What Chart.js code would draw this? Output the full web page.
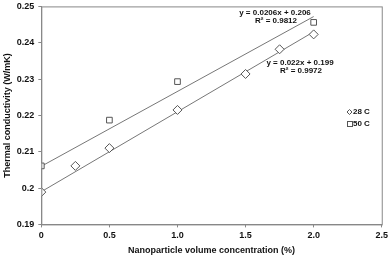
<!DOCTYPE html>
<html>
<head>
<meta charset="utf-8">
<script src="https://cdn.jsdelivr.net/npm/chart.js@4"></script>
<style>
  html, body { margin: 0; padding: 0; background: #fff; overflow: hidden; }
  #wrap { width: 391px; height: 260px; overflow: hidden; position: relative; }
  #tcChart { position: absolute; top: -3px; left: 0; }
</style>
</head>
<body>
<div id="wrap"><canvas id="tcChart" width="391" height="263"></canvas></div>
<script>
// values
const conc28 = [0, 0.25, 0.5, 1.0, 1.5, 1.75, 2.0];
const k28 = [0.1989, 0.2061, 0.2110, 0.2215, 0.2314, 0.2382, 0.2423];
const conc50 = [0, 0.5, 1.0, 2.0];
const k50 = [0.2061, 0.2187, 0.2293, 0.2456];
// linear trend lines (from the fitted equations shown on the chart)
const fitX = [0, 2];
const fit28 = [0.199, 0.243];
const fit50 = [0.206, 0.2472];
const xTicks = [0, 0.5, 1, 1.5, 2, 2.5];

const font = 'Liberation Sans, Arial, sans-serif';
const pts = (xs, ys) => xs.map((x, i) => ({ x: x, y: ys[i] }));

// frame, equations and legend drawn on top of the plot (canvas is shifted up 3px)
const extras = {
  id: 'extras',
  afterDraw(chart) {
    const { ctx, chartArea: a } = chart;
    ctx.save();
    ctx.strokeStyle = '#888';
    ctx.lineWidth = 1;
    ctx.strokeRect(a.left + 0.5, a.top + 0.5, a.right - a.left, a.bottom - a.top);

    ctx.fillStyle = '#111';
    ctx.font = 'bold 8px ' + font;
    ctx.textAlign = 'center';
    ctx.textBaseline = 'middle';
    ctx.fillText('y = 0.0206x + 0.206', 275, 16);
    ctx.fillText('R² = 0.9812', 276, 24);
    ctx.fillText('y = 0.022x + 0.199', 300, 66);
    ctx.fillText('R² = 0.9972', 301, 74);

    // legend
    ctx.textAlign = 'left';
    ctx.fillText('28 C', 353, 115);
    ctx.fillText('50 C', 353, 127);
    ctx.strokeStyle = '#555';
    ctx.beginPath();
    ctx.moveTo(349.5, 112.5); ctx.lineTo(352, 115); ctx.lineTo(349.5, 117.5); ctx.lineTo(347, 115); ctx.closePath();
    ctx.stroke();
    ctx.strokeRect(347.5, 124.5, 5, 5);
    ctx.restore();
  }
};

new Chart(document.getElementById('tcChart'), {
  type: 'scatter',
  data: {
    datasets: [
      {
        label: '28 C',
        data: pts(conc28, k28),
        pointStyle: 'rectRot',
        pointRadius: 4.5,
        borderColor: '#555',
        backgroundColor: '#fff',
        borderWidth: 1
      },
      {
        label: '50 C',
        data: pts(conc50, k50),
        pointStyle: 'rect',
        pointRadius: 4,
        borderColor: '#555',
        backgroundColor: '#fff',
        borderWidth: 1
      },
      {
        label: 'fit 28',
        data: pts(fitX, fit28),
        showLine: true,
        pointRadius: 0,
        borderColor: '#777',
        borderWidth: 1
      },
      {
        label: 'fit 50',
        data: pts(fitX, fit50),
        showLine: true,
        pointRadius: 0,
        borderColor: '#777',
        borderWidth: 1
      }
    ]
  },
  options: {
    responsive: false,
    animation: false,
    layout: { padding: { top: 0, right: 6, left: 2, bottom: 0 } },
    scales: {
      x: {
        type: 'linear',
        min: 0,
        max: 2.5,
        afterBuildTicks: (s) => { s.ticks = xTicks.map(v => ({ value: v })); },
        grid: { display: true, drawOnChartArea: false, tickLength: 3, color: '#888' },
        border: { color: '#888' },
        ticks: { color: '#111', font: { family: font, size: 9, weight: 'bold' }, padding: 3, maxRotation: 0 },
        title: { display: true, text: 'Nanoparticle volume concentration (%)', color: '#111',
                 font: { family: font, size: 9, weight: 'bold' }, padding: { top: 1, bottom: 4 } }
      },
      y: {
        min: 0.19,
        max: 0.25,
        ticks: { stepSize: 0.01, color: '#111', font: { family: font, size: 9, weight: 'bold' }, padding: 4,
                 callback: (v) => String(+v.toFixed(2)) },
        grid: { display: true, drawOnChartArea: false, tickLength: 3, color: '#888' },
        border: { color: '#888' },
        title: { display: true, text: 'Thermal conductivity (W/mK)', color: '#111',
                 font: { family: font, size: 9, weight: 'bold' }, padding: { top: 0, bottom: 0 } }
      }
    },
    plugins: {
      legend: { display: false },
      tooltip: { enabled: false }
    }
  },
  plugins: [extras]
});
</script>
</body>
</html>
